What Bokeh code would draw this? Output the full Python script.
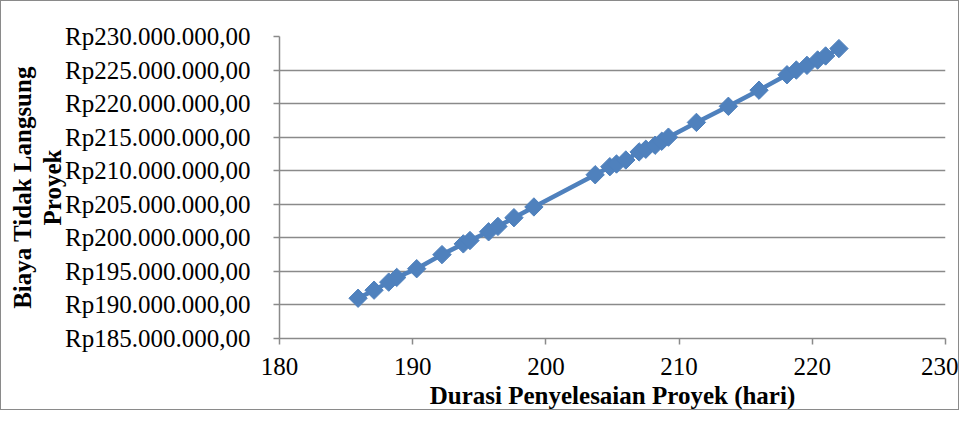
from bokeh.plotting import figure
from bokeh.models import Range1d, FixedTicker, CustomJSTickFormatter, ColumnDataSource
from bokeh.embed import file_html
from bokeh.resources import INLINE
import math

# Data (durasi in hari, biaya in rupiah)
durasi = [185.9, 187.1, 188.2, 188.8, 190.3, 192.2, 193.8, 194.3, 195.7, 196.4,
          197.6, 199.1, 203.7, 204.8, 205.3, 206.0, 207.0, 207.5, 208.2, 208.7,
          209.2, 211.3, 213.7, 216.0, 218.1, 218.8, 219.6, 220.4, 221.0, 222.0]
biaya_juta = [191.0, 192.2, 193.4, 194.1, 195.4, 197.5, 199.1, 199.6, 200.9, 201.7,
              203.0, 204.6, 209.4, 210.6, 211.0, 211.6, 212.8, 213.2, 213.8, 214.4,
              215.0, 217.2, 219.6, 222.0, 224.3, 225.0, 225.7, 226.5, 227.1, 228.2]
biaya = [v * 1e6 for v in biaya_juta]

x_ticks = [180, 190, 200, 210, 220, 230]
y_ticks = [185e6, 190e6, 195e6, 200e6, 205e6, 210e6, 215e6, 220e6, 225e6, 230e6]

x_title = "Durasi Penyelesaian Proyek (hari)"
y_title = "Biaya Tidak Langsung\nProyek"

src = ColumnDataSource(dict(x=durasi, y=biaya))

p = figure(width=959, height=410, output_backend="svg", toolbar_location=None,
           x_range=Range1d(180, 230), y_range=Range1d(185e6, 230e6),
           min_border_left=278, min_border_right=15, min_border_top=35, min_border_bottom=72)
p.styles = {"border": "1px solid #8a8a8a"}
p.outline_line_color = None
p.background_fill_color = "white"

color = "#4F81BD"
p.line("x", "y", source=src, line_color=color, line_width=4.5)
p.scatter("x", "y", source=src, marker="square", size=13, angle=math.pi / 4,
          fill_color=color, line_color=color)

font = "Liberation Serif"

p.xaxis.ticker = FixedTicker(ticks=x_ticks)
p.yaxis.ticker = FixedTicker(ticks=y_ticks)
p.yaxis.formatter = CustomJSTickFormatter(code="""
const s = Math.round(tick).toString().replace(/\\B(?=(\\d{3})+(?!\\d))/g, ".");
return "Rp" + s + ",00";
""")

for ax in (p.xaxis, p.yaxis):
    ax.axis_line_color = "#8a8a8a"
    ax.axis_line_width = 1.5
    ax.major_tick_line_color = "#8a8a8a"
    ax.major_tick_line_width = 1.5
    ax.major_tick_out = 6
    ax.major_tick_in = 0
    ax.minor_tick_line_color = None
    ax.major_label_text_font = font
    ax.major_label_text_font_size = "25px"
    ax.major_label_text_color = "black"
    ax.axis_label_text_font = font
    ax.axis_label_text_font_size = "25px"
    ax.axis_label_text_font_style = "bold"
    ax.axis_label_text_color = "black"
    ax.axis_label_text_line_height = 1.1

p.xaxis.axis_label = x_title
p.yaxis.axis_label = y_title
p.xaxis.major_label_standoff = 13
p.yaxis.major_label_standoff = 23
p.xaxis.axis_label_standoff = 4
p.yaxis.axis_label_standoff = -4

p.xgrid.grid_line_color = None
p.ygrid.grid_line_color = "#8a8a8a"
p.ygrid.grid_line_width = 1.5

open("out.html", "w").write(file_html(p, INLINE))
